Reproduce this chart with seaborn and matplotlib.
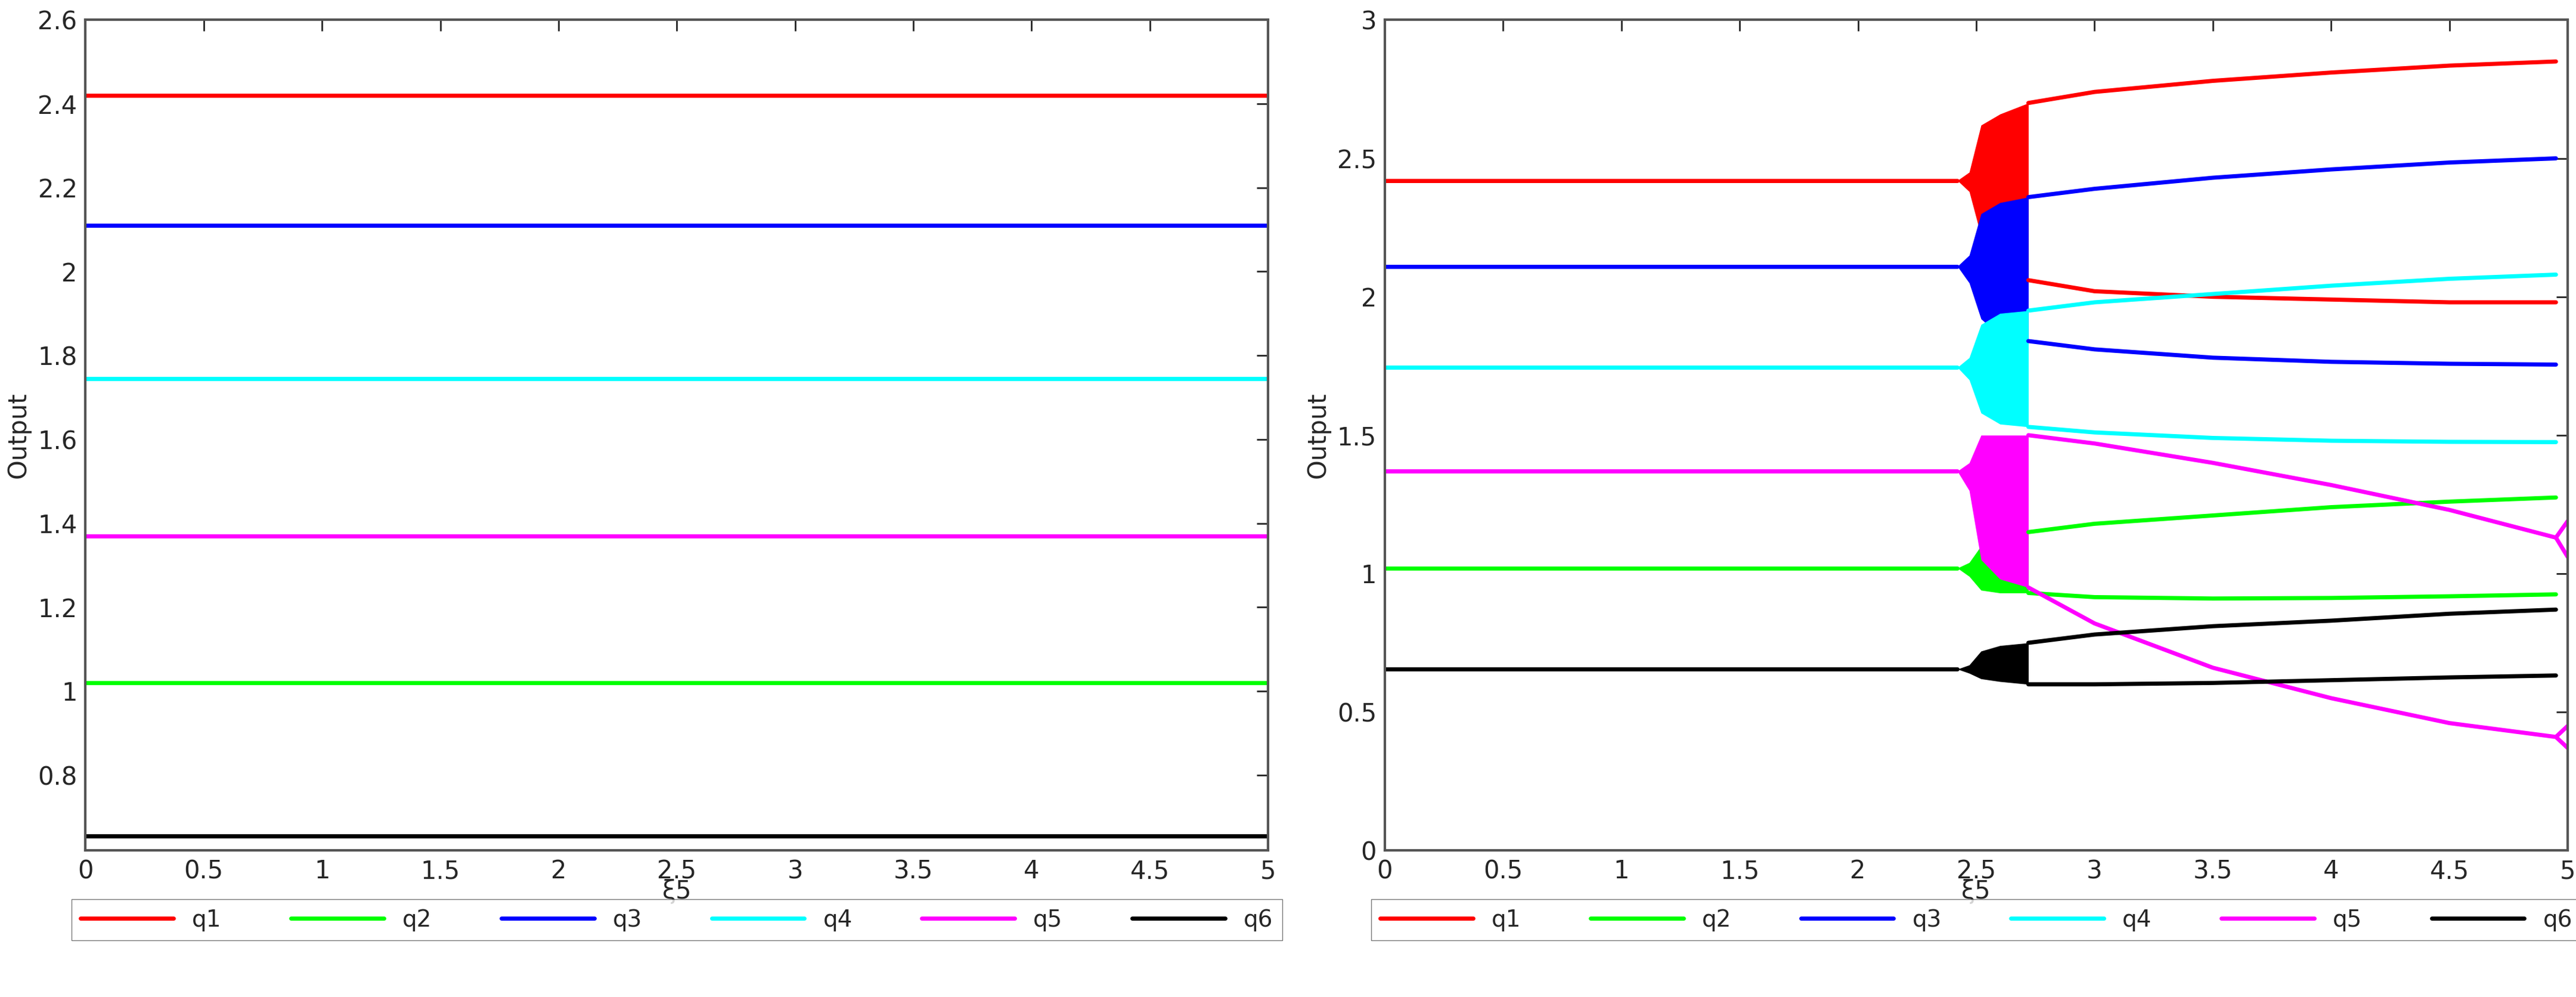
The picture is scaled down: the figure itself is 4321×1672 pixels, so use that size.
import numpy as np
import pandas as pd
import matplotlib
matplotlib.use("Agg")
import matplotlib.pyplot as plt
import seaborn as sns
from matplotlib.lines import Line2D

sns.set_style("white")
plt.rcParams['font.family'] = ['DejaVu Sans']

names = ["q1", "q2", "q3", "q4", "q5", "q6"]
colors = ["#ff0000", "#00ff00", "#0000ff", "#00ffff", "#ff00ff", "#000000"]
base = [2.42, 1.02, 2.11, 1.745, 1.37, 0.655]

# right panel: branches after the oscillatory region
branch_x = [2.72, 3.0, 3.5, 4.0, 4.5, 4.95]
upper = {
    "q1": [2.70, 2.74, 2.78, 2.81, 2.835, 2.85],
    "q2": [1.15, 1.18, 1.21, 1.24, 1.26, 1.275],
    "q3": [2.36, 2.39, 2.43, 2.46, 2.485, 2.50],
    "q4": [1.95, 1.98, 2.01, 2.04, 2.065, 2.08],
    "q5": [1.50, 1.47, 1.40, 1.32, 1.23, 1.13],
    "q6": [0.75, 0.78, 0.81, 0.83, 0.855, 0.87],
}
lower = {
    "q1": [2.06, 2.02, 2.00, 1.99, 1.98, 1.98],
    "q2": [0.93, 0.915, 0.91, 0.912, 0.918, 0.925],
    "q3": [1.84, 1.81, 1.78, 1.765, 1.758, 1.755],
    "q4": [1.53, 1.51, 1.49, 1.48, 1.476, 1.475],
    "q5": [0.95, 0.82, 0.66, 0.55, 0.46, 0.41],
    "q6": [0.60, 0.60, 0.605, 0.615, 0.625, 0.632],
}
band_x = [2.42, 2.47, 2.52, 2.60, 2.72]
band_hi = {
    "q1": [2.42, 2.45, 2.62, 2.66, 2.70],
    "q2": [1.02, 1.04, 1.10, 1.14, 1.15],
    "q3": [2.11, 2.15, 2.30, 2.34, 2.36],
    "q4": [1.745, 1.78, 1.90, 1.94, 1.95],
    "q5": [1.37, 1.40, 1.50, 1.50, 1.50],
    "q6": [0.655, 0.67, 0.72, 0.74, 0.75],
}
band_lo = {
    "q1": [2.42, 2.38, 2.22, 2.10, 2.06],
    "q2": [1.02, 0.99, 0.94, 0.93, 0.93],
    "q3": [2.11, 2.05, 1.92, 1.86, 1.84],
    "q4": [1.745, 1.70, 1.58, 1.54, 1.53],
    "q5": [1.37, 1.30, 1.05, 0.98, 0.95],
    "q6": [0.655, 0.64, 0.62, 0.61, 0.60],
}
fork_x = [4.95, 5.0]
fork = {"q5": ([1.13, 1.19], [1.13, 1.06], [0.41, 0.45], [0.41, 0.37])}

fig = plt.figure(figsize=(43.21, 16.72), dpi=100)
axL = fig.add_axes([0.0332, 0.147, 0.4591, 0.833])
axR = fig.add_axes([0.5376, 0.147, 0.4592, 0.833])

xs = np.array([0.0, 5.0])
LW = 5
for n, c, b in zip(names, colors, base):
    sns.lineplot(x=xs, y=[b, b], color=c, lw=LW, ax=axL, estimator=None)
    sns.lineplot(x=[0, 2.42], y=[b, b], color=c, lw=LW, ax=axR, estimator=None)
    axR.fill_between(band_x, band_lo[n], band_hi[n], color=c, lw=0)
    sns.lineplot(x=branch_x, y=upper[n], color=c, lw=LW, ax=axR, estimator=None)
    sns.lineplot(x=branch_x, y=lower[n], color=c, lw=LW, ax=axR, estimator=None)
    if n in fork:
        for seg in fork[n]:
            sns.lineplot(x=fork_x, y=seg, color=c, lw=LW, ax=axR, estimator=None)

axL.set_xlim(0, 5); axL.set_ylim(0.62, 2.6)
axL.set_yticks([0.8, 1, 1.2, 1.4, 1.6, 1.8, 2, 2.2, 2.4, 2.6])
axL.set_yticklabels(["0.8", "1", "1.2", "1.4", "1.6", "1.8", "2", "2.2", "2.4", "2.6"])
axR.set_xlim(0, 5); axR.set_ylim(0, 3)
axR.set_yticks([0, 0.5, 1, 1.5, 2, 2.5, 3])
axR.set_yticklabels(["0", "0.5", "1", "1.5", "2", "2.5", "3"])
xt = [0, 0.5, 1, 1.5, 2, 2.5, 3, 3.5, 4, 4.5, 5]
xl = ["0", "0.5", "1", "1.5", "2", "2.5", "3", "3.5", "4", "4.5", "5"]
handles = [Line2D([0], [0], color=c, lw=LW) for c in colors]
for ax in (axL, axR):
    ax.set_xticks(xt); ax.set_xticklabels(xl)
    ax.tick_params(labelsize=30, direction="in", length=14, width=2, top=True, right=True, pad=10)
    for s in ax.spines.values():
        s.set_color("#555555"); s.set_linewidth(3)
    ax.set_xlabel("ξ5", fontsize=30, labelpad=-6)
    ax.set_ylabel("Output", fontsize=30, labelpad=8)
    ax.legend(handles, names, ncol=6, loc="upper center", bbox_to_anchor=(0.5, -0.045),
              fontsize=28, frameon=True, fancybox=False, edgecolor="#555555",
              handlelength=4, columnspacing=3)
fig.savefig("out.png", dpi=100)
